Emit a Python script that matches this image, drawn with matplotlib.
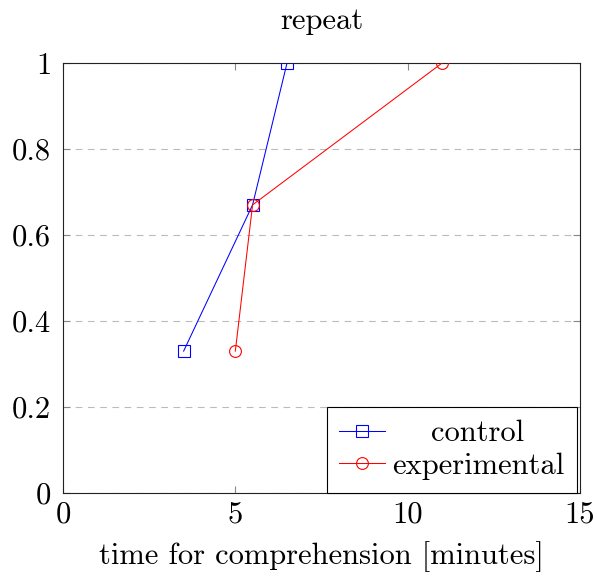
import matplotlib
matplotlib.use("Agg")
import matplotlib.pyplot as plt
from matplotlib.transforms import Affine2D

# Share of participants who finished, by time needed (minutes)
control_time = [3.5, 5.5, 6.5]
control_share = [0.33, 0.67, 1.0]
experimental_time = [5.0, 5.5, 11.0]
experimental_share = [0.33, 0.67, 1.0]

x_ticks = [0, 5, 10, 15]
y_ticks = [0, 0.2, 0.4, 0.6, 0.8, 1]
y_tick_labels = ["0", "0.2", "0.4", "0.6", "0.8", "1"]

plt.rcParams["font.family"] = "serif"
plt.rcParams["font.serif"] = ["cmr10", "DejaVu Serif"]
plt.rcParams["mathtext.fontset"] = "cm"
plt.rcParams["axes.formatter.use_mathtext"] = True

fig = plt.figure(figsize=(5.97, 5.77), dpi=100)
ax = fig.add_axes([63 / 597, 1 - 493 / 577, (580 - 63) / 597, (493 - 63) / 577])

ax.plot(control_time, control_share, color="blue", lw=0.75, marker="s",
        markersize=8.2, markerfacecolor="none", markeredgewidth=0.8,
        label="control", zorder=3)
ax.plot(experimental_time, experimental_share, color="red", lw=0.75, marker="o",
        markersize=8.5, markerfacecolor="none", markeredgewidth=0.8,
        label="experimental", zorder=3)

ax.set_xlim(0, 15)
ax.set_ylim(0, 1)
ax.set_xticks(x_ticks)
ax.set_xticklabels([str(t) for t in x_ticks])
ax.set_yticks(y_ticks)
ax.set_yticklabels(y_tick_labels)

ax.yaxis.grid(True, linestyle=(0, (6, 5)), color="#bbbbbb", lw=0.8)
ax.set_axisbelow(True)

fs = 22
ax.tick_params(direction="in", length=5, width=0.8, color="#888888",
               labelsize=fs, top=True, right=True)
ax.tick_params(axis="x", pad=6)
ax.tick_params(axis="y", pad=8.5)
for spine in ax.spines.values():
    spine.set_linewidth(0.8)
    spine.set_color("#222222")

ax.set_title("repeat", fontsize=fs, pad=24.5)
ax.set_xlabel("time for comprehension [minutes]", fontsize=fs, labelpad=9)

leg = ax.legend(loc="lower right", bbox_to_anchor=((577 - 63) / 517, 0.0),
                fontsize=fs, frameon=True, fancybox=False,
                edgecolor="black", framealpha=1, borderaxespad=0.0,
                handlelength=1.5, handletextpad=0.22, borderpad=0.42,
                labelspacing=0.18)
leg.get_frame().set_linewidth(0.8)

# Centre the shorter legend entry within the label column
fig.canvas.draw()
renderer = fig.canvas.get_renderer()
widths = [t.get_window_extent(renderer).width for t in leg.get_texts()]
col_w = max(widths)
for t, w in zip(leg.get_texts(), widths):
    dx = (col_w - w) / 2
    if dx > 0:
        t.set_transform(t.get_transform() + Affine2D().translate(dx, 0))

fig.savefig("out.png", dpi=100)
